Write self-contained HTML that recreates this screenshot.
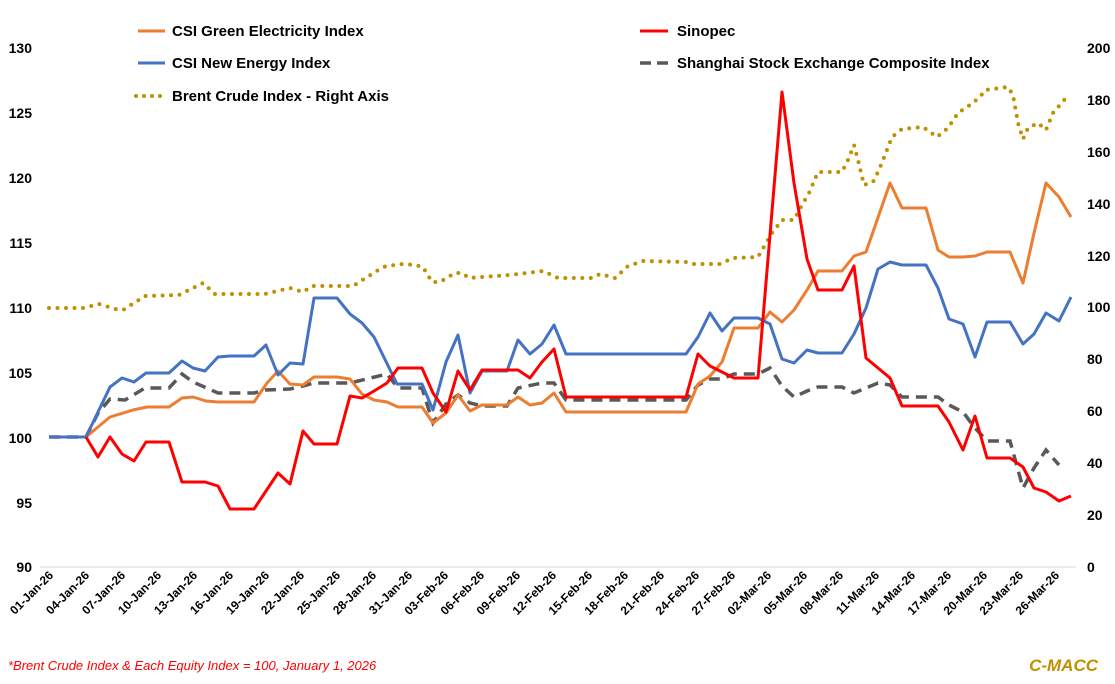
<!DOCTYPE html>
<html><head><meta charset="utf-8"><style>
body{margin:0;background:#fff;}
svg{display:block;font-family:"Liberation Sans",sans-serif;}
</style></head><body>
<svg width="1115" height="684" viewBox="0 0 1115 684" xmlns="http://www.w3.org/2000/svg">
<rect width="1115" height="684" fill="#fff"/>
<g font-size="14" font-weight="bold" fill="#000" text-anchor="end">
<text x="32" y="53">130</text><text x="32" y="118">125</text><text x="32" y="183">120</text><text x="32" y="248">115</text><text x="32" y="313">110</text><text x="32" y="378">105</text><text x="32" y="443">100</text><text x="32" y="508">95</text><text x="32" y="572">90</text>
</g>
<g font-size="14" font-weight="bold" fill="#000" text-anchor="start">
<text x="1087" y="53">200</text><text x="1087" y="105">180</text><text x="1087" y="157">160</text><text x="1087" y="209">140</text><text x="1087" y="261">120</text><text x="1087" y="312">100</text><text x="1087" y="364">80</text><text x="1087" y="416">60</text><text x="1087" y="468">40</text><text x="1087" y="520">20</text><text x="1087" y="572">0</text>
</g>
<line x1="40" y1="567" x2="1076" y2="567" stroke="#d9d9d9" stroke-width="1"/>
<!-- Brent -->
<polyline fill="none" stroke="#bf9000" stroke-width="4" stroke-linecap="round" stroke-dasharray="0 8.5" points="49,308 83,308 99,304 115,309 123,310 145,296 179,295 203,283 215,294 265,294 290,288 303,292 312,286 353,286 383,267 400,264 415,265 423,267 432,282 440,282 455,273 462,273 469,278 510,275 543,271 558,278 592,278 600,274 615,278 628,266 643,261 687,262 693,264 720,264 733,258 758,257 765,245 772,233 782,220 794,220 802,205 809,193 818,172 842,172 848,160 854,145 858,160 864,185 873,182 879,170 885,155 892,137 902,129 923,127 937,137 948,128 958,113 970,105 980,97 985,90 1008,87 1013,95 1018,123 1023,139 1028,128 1038,123 1046,130 1053,113 1065,99"/>
<!-- Gray dashed -->
<polyline fill="none" stroke="#595959" stroke-width="3.5" stroke-dasharray="11 7" points="49,437 86,437 98,413 110,399 125,400 145,388 169,388 182,374 193,382 218,393 254,393 266,390 290,389 303,386 314,383 350,383 387,374 398,388 422,388 433,423 446,404 458,395 470,403 482,406 507,406 518,388 542,383 554,383 566,400 686,400 698,385 710,379 722,379 734,374 758,374 770,368 782,386 794,397 807,391 818,387 842,387 854,393 866,388 878,383 890,385 902,397 938,397 949,405 963,412 975,428 987,441 1010,441 1023,488 1034,468 1046,450 1059,465"/>
<!-- Orange -->
<polyline fill="none" stroke="#ed7d31" stroke-width="3" stroke-linejoin="round" points="49,437 86,437 110,417 133,410 147,407 169,407 182,398 193,397 206,401 218,402 254,402 267,383 278,371 290,384 303,385 314,377 337,377 350,379 362,394 374,400 387,402 398,407 422,407 433,423 446,413 458,395 470,411 482,405 507,405 518,397 530,405 542,403 554,393 566,412 686,412 698,384 710,376 722,362 734,328 758,328 770,312 782,322 794,310 807,290 818,271 842,271 854,256 866,252 890,183 902,208 926,208 938,250 949,257 963,257 975,256 987,252 1010,252 1023,283 1034,233 1046,183 1059,197 1071,217"/>
<!-- Blue -->
<polyline fill="none" stroke="#4472c4" stroke-width="3" stroke-linejoin="round" points="49,437 86,437 110,387 122,378 134,382 146,373 169,373 182,361 193,368 205,371 218,357 230,356 254,356 266,345 278,375 290,363 303,364 314,298 337,298 350,314 362,323 374,337 397,384 422,384 433,410 446,362 458,335 470,393 482,371 507,371 518,340 530,354 542,344 554,325 566,354 686,354 698,337 710,313 722,331 734,318 758,318 770,324 782,359 794,363 807,350 818,353 842,353 854,334 866,308 878,269 890,262 902,265 926,265 938,288 949,319 963,324 975,357 987,322 1010,322 1023,344 1034,334 1046,313 1059,321 1071,297"/>
<!-- Red -->
<polyline fill="none" stroke="#ff0000" stroke-width="3" stroke-linejoin="round" points="86,437 98,457 110,437 122,454 134,461 146,442 169,442 182,482 205,482 218,486 230,509 254,509 266,491 278,473 290,484 303,431 314,444 337,444 350,396 362,398 374,391 387,383 398,368 422,368 433,393 446,412 458,371 470,390 482,370 518,370 530,378 542,362 554,349 566,397 686,397 698,354 710,366 734,378 758,378 782,92 794,183 807,259 818,290 842,290 854,266 866,358 878,368 890,378 902,406 938,406 949,422 963,450 975,416 987,458 1010,458 1023,467 1034,488 1046,492 1059,501 1071,496"/>
<!-- Legend -->
<g font-size="15" font-weight="bold" fill="#000">
<line x1="138" y1="31" x2="165" y2="31" stroke="#ed7d31" stroke-width="3"/><text x="172" y="36">CSI Green Electricity Index</text>
<line x1="640" y1="31" x2="668" y2="31" stroke="#ff0000" stroke-width="3"/><text x="677" y="36">Sinopec</text>
<line x1="138" y1="63" x2="165" y2="63" stroke="#4472c4" stroke-width="3"/><text x="172" y="68">CSI New Energy Index</text>
<line x1="640" y1="63" x2="668" y2="63" stroke="#595959" stroke-width="3.5" stroke-dasharray="11 6"/><text x="677" y="68">Shanghai Stock Exchange Composite Index</text>
<line x1="136" y1="96" x2="166" y2="96" stroke="#bf9000" stroke-width="4" stroke-linecap="round" stroke-dasharray="0 8"/><text x="172" y="101">Brent Crude Index - Right Axis</text>
</g>
<text x="8" y="670" font-size="13" font-style="italic" fill="#ff0000">*Brent Crude Index &amp; Each Equity Index = 100, January 1, 2026</text>
<text x="1098" y="671" font-size="17" font-style="italic" font-weight="bold" fill="#bf9000" text-anchor="end">C-MACC</text>
<g font-size="12" font-weight="bold" fill="#000" text-anchor="end">
<text transform="translate(54,576) rotate(-45)">01-Jan-26</text>
<text transform="translate(90,576) rotate(-45)">04-Jan-26</text>
<text transform="translate(126,576) rotate(-45)">07-Jan-26</text>
<text transform="translate(162,576) rotate(-45)">10-Jan-26</text>
<text transform="translate(198,576) rotate(-45)">13-Jan-26</text>
<text transform="translate(234,576) rotate(-45)">16-Jan-26</text>
<text transform="translate(270,576) rotate(-45)">19-Jan-26</text>
<text transform="translate(305,576) rotate(-45)">22-Jan-26</text>
<text transform="translate(341,576) rotate(-45)">25-Jan-26</text>
<text transform="translate(377,576) rotate(-45)">28-Jan-26</text>
<text transform="translate(413,576) rotate(-45)">31-Jan-26</text>
<text transform="translate(449,576) rotate(-45)">03-Feb-26</text>
<text transform="translate(485,576) rotate(-45)">06-Feb-26</text>
<text transform="translate(521,576) rotate(-45)">09-Feb-26</text>
<text transform="translate(557,576) rotate(-45)">12-Feb-26</text>
<text transform="translate(593,576) rotate(-45)">15-Feb-26</text>
<text transform="translate(629,576) rotate(-45)">18-Feb-26</text>
<text transform="translate(665,576) rotate(-45)">21-Feb-26</text>
<text transform="translate(700,576) rotate(-45)">24-Feb-26</text>
<text transform="translate(736,576) rotate(-45)">27-Feb-26</text>
<text transform="translate(772,576) rotate(-45)">02-Mar-26</text>
<text transform="translate(808,576) rotate(-45)">05-Mar-26</text>
<text transform="translate(844,576) rotate(-45)">08-Mar-26</text>
<text transform="translate(880,576) rotate(-45)">11-Mar-26</text>
<text transform="translate(916,576) rotate(-45)">14-Mar-26</text>
<text transform="translate(952,576) rotate(-45)">17-Mar-26</text>
<text transform="translate(988,576) rotate(-45)">20-Mar-26</text>
<text transform="translate(1024,576) rotate(-45)">23-Mar-26</text>
<text transform="translate(1060,576) rotate(-45)">26-Mar-26</text>
</g>
</svg>
</body></html>
